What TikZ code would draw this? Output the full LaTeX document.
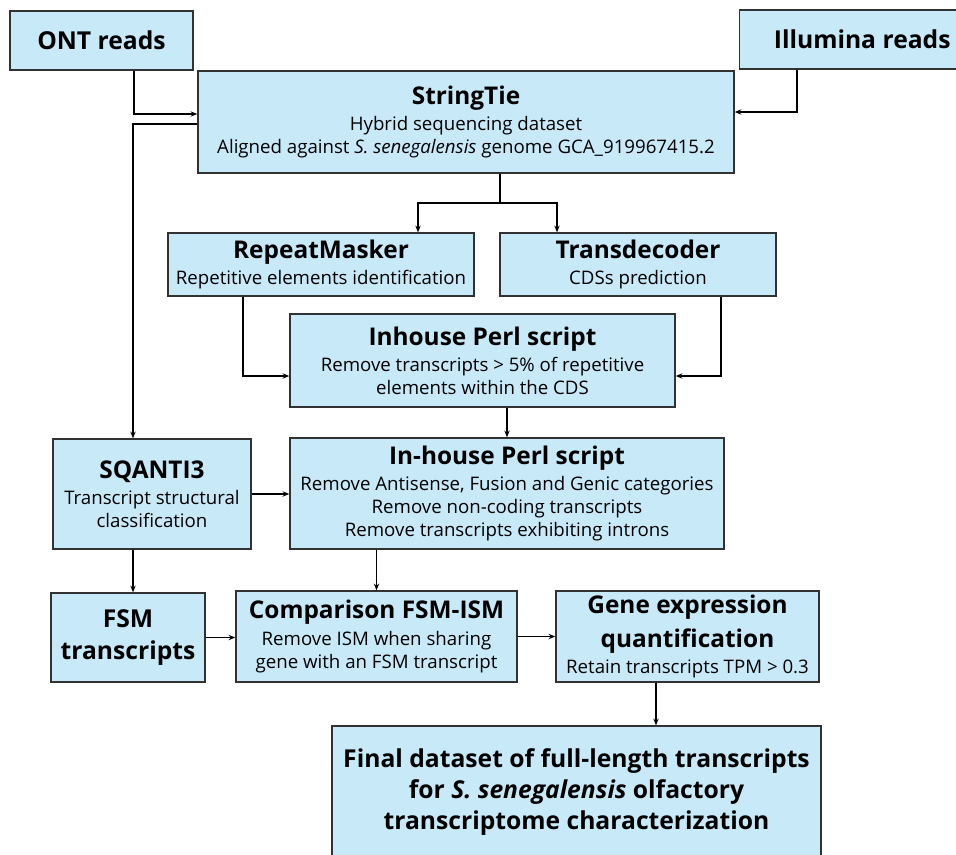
\documentclass[tikz,border=0pt]{standalone}
\usepackage{fontspec}
\setmainfont{Open Sans}
\usetikzlibrary{arrows.meta}
\definecolor{boxblue}{RGB}{200,233,248}
\definecolor{boxline}{RGB}{50,50,50}
\newcommand{\hd}[1]{{\fontsize{18.3}{21}\selectfont\bfseries #1}}
\begin{document}
\begin{tikzpicture}[x=0.75pt,y=-0.75pt,
  box/.style={draw=boxline,line width=1.1pt,fill=boxblue,align=center,inner sep=0pt,
    font=\fontsize{14}{17.25}\selectfont},
  big/.style={box,font=\fontsize{18.5}{23.6}\selectfont\bfseries},
  link/.style={line width=0.9pt},
  arr/.style={link,-{Stealth[length=5pt,width=4pt]}}]
\useasboundingbox (0,0) rectangle (956,854);
\node[big,minimum width=137.25pt,minimum height=44.25pt] (ont) at (101.5,40.5) {ONT reads};
\node[big,minimum width=173.25pt,minimum height=44.25pt,anchor=west] (illumina) at (739,39.5) {\hspace*{10.5pt}Illumina reads};
\node[box,minimum width=402pt,minimum height=76.5pt] (stringtie) at (466,122)
  {\hd{StringTie}\\[2.5pt]Hybrid sequencing dataset\\Aligned against \textit{S. senegalensis} genome GCA\_919967415.2};
\node[box,minimum width=229.5pt,minimum height=47.25pt] (repeatmasker) at (321,264.5)
  {\hd{RepeatMasker}\\[2.5pt]Repetitive elements identification};
\node[box,minimum width=207pt,minimum height=47.25pt] (transdecoder) at (638,264.5)
  {\hd{Transdecoder}\\[2.5pt]CDSs prediction};
\node[box,minimum width=288.75pt,minimum height=69.75pt] (perlA) at (482.5,360.5)
  {\hd{Inhouse Perl script}\\[2.5pt]Remove transcripts > 5\% of repetitive\\elements within the CDS};
\node[box,minimum width=325.5pt,minimum height=83.25pt] (perlB) at (507,493.5)
  {\hd{In-house Perl script}\\[2.5pt]Remove Antisense, Fusion and Genic categories\\Remove non-coding transcripts\\Remove transcripts exhibiting introns};
\node[box,minimum width=148.5pt,minimum height=82.5pt] (sqanti) at (152,494)
  {\hd{SQANTI3}\\[2.5pt]Transcript structural\\classification};
\node[big,minimum width=115.5pt,minimum height=66.75pt] (fsm) at (128,637.5) {FSM\\transcripts};
\node[box,minimum width=210.75pt,minimum height=68.25pt] (comparison) at (376.5,636.5)
  {\hd{Comparison FSM-ISM}\\[2.5pt]Remove ISM when sharing\\gene with an FSM transcript};
\node[box,minimum width=197.25pt,minimum height=68.25pt] (gene) at (687.5,636.5)
  {\hd{Gene expression}\\[6pt]\hd{quantification}\\[2.5pt]Retain transcripts TPM > 0.3};
\node[big,minimum width=366.75pt,minimum height=99pt] (final) at (576.5,792)
  {Final dataset of full-length transcripts\\for \textit{S. senegalensis} olfactory\\transcriptome characterization};
\coordinate (split) at (500,203);
\draw[arr] (ont.south -| 134,0) |- (stringtie.west |- 0,114);
\draw[arr] (illumina.south -| 797,0) |- (stringtie.east |- 0,112);
\draw[arr] (stringtie.west |- 0,124) -| (sqanti.north -| 133,0);
\draw[link] (stringtie.south -| split) -- (split);
\draw[arr] (split) -| (repeatmasker.north -| 418,0);
\draw[arr] (split) -| (transdecoder.north -| 557,0);
\draw[arr] (repeatmasker.south -| 243,0) |- (perlA.west |- 0,376);
\draw[arr] (transdecoder.south -| 721,0) |- (perlA.east |- 0,376);
\draw[arr] (perlB.north |- perlA.south) -- (perlB.north);
\draw[arr] (sqanti.east) -- (perlB.west |- sqanti.east);
\draw[arr] (sqanti.south -| 133,0) -- (fsm.north -| 133,0);
\draw[arr] (comparison.north |- perlB.south) -- (comparison.north);
\draw[arr] (fsm.east) -- (fsm.east -| comparison.west);
\draw[arr] (comparison.east) -- (comparison.east -| gene.west);
\draw[arr] (gene.south -| 656,0) -- (final.north -| 656,0);
\end{tikzpicture}
\end{document}
